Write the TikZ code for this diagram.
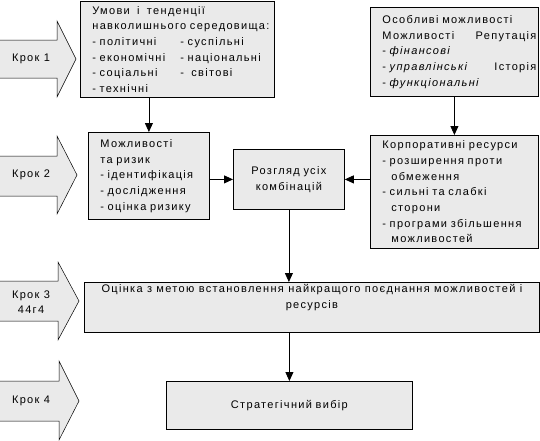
\documentclass[tikz,border=0pt]{standalone}
\usepackage{fontspec}
\setmainfont{Liberation Sans}[LetterSpace=12]
\usetikzlibrary{arrows.meta, calc}
\definecolor{boxgray}{RGB}{234,234,234}

\begin{document}
\begin{tikzpicture}[x=1pt, y=-1pt,
    box/.style={rectangle, draw=black, fill=boxgray, line width=0.8pt, inner xsep=12pt, inner ysep=0pt, align=left, anchor=north west, font=\fontsize{11}{15.7}\selectfont},
    boxtext/.style={inner sep=2pt, font=\fontsize{11}{15.7}\selectfont},
    steplabel/.style={inner sep=0pt, align=center, font=\fontsize{11}{15.5}\selectfont},
    steparrow/.style={fill=boxgray, draw=black, line width=0.5pt},
    arr/.style={-{Triangle[length=9pt, width=8pt]}, line width=0.8pt},
]
\useasboundingbox (0,0) rectangle (540,440);

% step arrows on the left
\filldraw[steparrow] (0,40) -- (57,40) -- (57,21) -- (76,59) -- (57,97) -- (57,78) -- (0,78);
\node[steplabel] (k1) at (31,59) {Крок 1};
\filldraw[steparrow] (0,156) -- (57,156) -- (57,136) -- (77,175) -- (57,214) -- (57,196) -- (0,196);
\node[steplabel] (k2) at (31,175) {Крок 2};
\filldraw[steparrow] (0,281) -- (58,281) -- (58,262) -- (79,301) -- (58,340) -- (58,321) -- (0,321);
\node[steplabel] (k3) at (31,302) {Крок 3\\44г4};
\filldraw[steparrow] (0,381) -- (59,381) -- (59,361) -- (79,401) -- (59,440) -- (59,421) -- (0,421);
\node[steplabel] (k4) at (31,401) {Крок 4};

% boxes
\node[box, text width=170pt, minimum height=96pt] (env) at (80,1) {%
Умови~ і~ тенденції\\
\mbox{навколишнього середовища:}\\
\makebox[88pt][l]{- політичні}- суспільні\\
\makebox[88pt][l]{- економічні}- національні\\
\makebox[88pt][l]{- соціальні}-~ світові\\
- технічні};

\node[box, text width=144pt, minimum height=89pt] (feat) at (370,7) {%
Особливі можливості\\
\makebox[154pt][l]{Можливості\hfill Репутація}\\
- \textit{фінансові}\\
\makebox[154pt][l]{- \textit{управлінські}\hfill Історія}\\
- \textit{функціональні}};

\node[box, text width=97pt, minimum height=87pt] (opp) at (88,132) {%
Можливості\\
та ризик\\
- ідентифікація\\
- дослідження\\
- оцінка ризику};

\node[box, text width=87pt, minimum height=60pt, align=center] (comb) at (233,149) {Розгляд усіх\\комбінацій};

\node[box, text width=144pt, minimum height=113pt] (res) at (370,135) {%
Корпоративні ресурси\\
- розширення проти\\
\hspace*{9pt}обмеження\\
- сильні та слабкі\\
\hspace*{9pt}сторони\\
- програми збільшення\\
\hspace*{9pt}можливостей};

\node[box, minimum width=455pt, minimum height=50pt] (eval) at (84,282) {};
\node[boxtext, anchor=north, align=center] (evaltext) at (eval.north) {Оцінка з метою встановлення найкращого поєднання можливостей і\\ресурсів};

\node[box, text width=222pt, minimum height=48pt, align=center] (choice) at (166,381) {Стратегічний вибір};

% connectors
\draw[arr] (env.south -| opp.north) -- (opp.north);
\draw[arr] (feat.south) -- (res.north);
\draw[arr] (opp.east |- comb.west) -- (comb.west);
\draw[arr] (res.west |- comb.east) -- (comb.east);
\draw[arr] (comb.south) -- (comb.south |- eval.north);
\draw[arr] (choice.north |- eval.south) -- (choice.north);

\end{tikzpicture}
\end{document}
